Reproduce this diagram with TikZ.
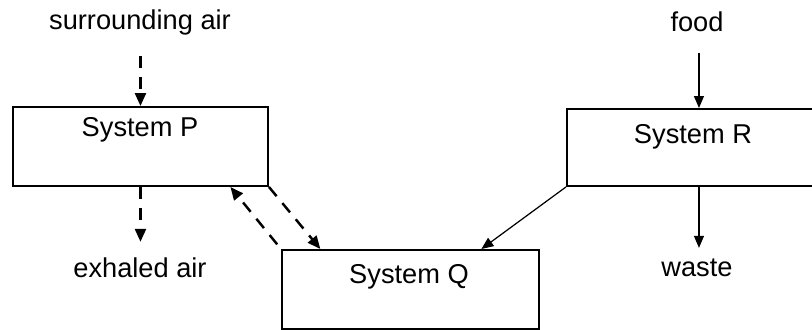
\documentclass[tikz,border=0pt]{standalone}
\usepackage{fontspec}
\setmainfont{Liberation Sans}
\usetikzlibrary{arrows.meta,calc,positioning}

\begin{document}
\begin{tikzpicture}[x=0.2mm,y=-0.2mm,
  sysbox/.style={draw,line width=1.1pt,inner sep=0pt,anchor=north west,
    minimum height=1.58cm},
  txt/.style={font=\fontsize{15.5}{18}\selectfont},
  flow/.style={line width=0.7pt,-{Triangle[length=2.4mm,width=2mm]}},
  gas/.style={line width=1.4pt,dash pattern=on 2.4mm off 1.8mm,
    -{Triangle[length=2.6mm,width=2.2mm]}}]
\useasboundingbox (0,0) rectangle (812,329);
% the three systems
\node[sysbox,minimum width=5.1cm] (P) at (12,106) {};
\node[sysbox,minimum width=5.14cm] (Q) at (281,249) {};
\node[sysbox,minimum width=5.28cm,minimum height=1.54cm] (R) at (566,108) {};
\node[txt] (Ptext) at (140,130) {System P};
\node[txt] (Qtext) at (409,277) {System Q};
\node[txt] (Rtext) at (693,137) {System R};
% inputs and outputs
\node[txt] (air) at (140,22) {surrounding air};
\node[txt] (exh) at (140,268) {exhaled air};
\node[txt] (food) at (697,22) {food};
\node[txt] (waste) at (697,268) {waste};
\draw[gas,shorten <=0.3cm] (air.south -| P.north) -- (P.north);
\draw[gas,shorten >=0.2cm] (P.south) -- (exh.north -| P.south);
\draw[flow,shorten <=0.3cm] (food.south -| R.north) -- (R.north);
\draw[flow,shorten >=0.1cm] (R.south) -- (waste.north -| R.south);
% between the systems
\coordinate (QinP) at ($(Q.north west)!0.152!(Q.north east)$);
\coordinate (PinQ) at ($(P.south west)!0.85!(P.south east)$);
\coordinate (QinR) at ($(Q.north west)!0.774!(Q.north east)$);
\draw[gas] (P.south east) -- (QinP);
\draw[gas,shorten <=0.12cm] (Q.north west) -- (PinQ);
\draw[flow] (R.south west) -- (QinR);
\end{tikzpicture}
\end{document}
